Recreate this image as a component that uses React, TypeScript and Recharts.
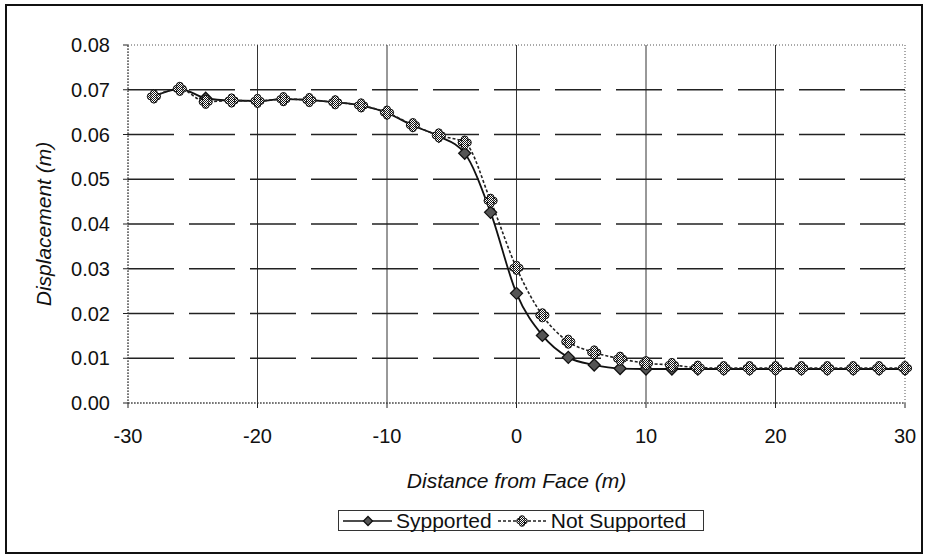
import React from "react";
import {
  LineChart,
  Line,
  XAxis,
  YAxis,
  ReferenceLine,
  ReferenceArea,
} from "recharts";

const distances = [
  -28, -26, -24, -22, -20, -18, -16, -14, -12, -10, -8, -6, -4, -2, 0, 2, 4, 6,
  8, 10, 12, 14, 16, 18, 20, 22, 24, 26, 28, 30,
];
const supported = [
  0.0685, 0.0702, 0.0681, 0.0676, 0.0675, 0.0679, 0.0677, 0.0672, 0.0665,
  0.0648, 0.062, 0.0596, 0.0558, 0.0426, 0.0245, 0.0151, 0.0102, 0.0085,
  0.0077, 0.0076, 0.0076, 0.0076, 0.0076, 0.0076, 0.0076, 0.0076, 0.0076,
  0.0076, 0.0076, 0.0076,
];
const notSupported = [
  0.0685, 0.0702, 0.0673, 0.0676, 0.0675, 0.0679, 0.0677, 0.0672, 0.0665,
  0.0649, 0.0621, 0.0598, 0.0582, 0.0452, 0.0302, 0.0196, 0.0137, 0.0113,
  0.0099, 0.0089, 0.0085, 0.0079, 0.0078, 0.0078, 0.0078, 0.0078, 0.0078,
  0.0078, 0.0078, 0.0078,
];
const xTicks = [-30, -20, -10, 0, 10, 20, 30];
const yTicks = [0, 0.01, 0.02, 0.03, 0.04, 0.05, 0.06, 0.07, 0.08];
const xGrid = [-20, -10, 0, 10, 20];
const yGrid = [0.01, 0.02, 0.03, 0.04, 0.05, 0.06, 0.07];

const data = distances.map((d, i) => ({
  x: d,
  supported: supported[i],
  notSupported: notSupported[i],
}));

const FONT = "'Liberation Sans', Arial, sans-serif";

// diamond marker for the supported series
function Diamond({ cx, cy, size = 6 }: any) {
  if (cx == null || cy == null) return null;
  const r = size;
  return (
    <path
      d={`M${cx},${cy - r} L${cx + r},${cy} L${cx},${cy + r} L${cx - r},${cy} Z`}
      fill="#555"
      stroke="#111"
      strokeWidth={1.3}
    />
  );
}

// four-lobed hatched marker for the unsupported series
function Clover({ cx, cy, size = 1 }: any) {
  if (cx == null || cy == null) return null;
  const o = 3.1 * size;
  const r = 3.5 * size;
  return (
    <g stroke="#111" strokeWidth={1} fill="url(#checker)">
      <circle cx={cx - o} cy={cy} r={r} />
      <circle cx={cx + o} cy={cy} r={r} />
      <circle cx={cx} cy={cy - o} r={r} />
      <circle cx={cx} cy={cy + o} r={r} />
      <circle cx={cx} cy={cy} r={2.6 * size} stroke="none" />
    </g>
  );
}

function YTitle({ viewBox }: any) {
  const x = viewBox.x + 35;
  const y = viewBox.y + viewBox.height / 2;
  return (
    <text
      x={x}
      y={y}
      transform={`rotate(-90 ${x} ${y})`}
      textAnchor="middle"
      dominantBaseline="central"
      fontFamily={FONT}
      fontStyle="italic"
      fontSize={21}
      fill="#111"
    >
      Displacement (m)
    </text>
  );
}

function XTitle({ viewBox }: any) {
  return (
    <text
      x={viewBox.x + viewBox.width / 2}
      y={viewBox.y + 85}
      textAnchor="middle"
      fontFamily={FONT}
      fontStyle="italic"
      fontSize={21}
      fill="#111"
    >
      Distance from Face (m)
    </text>
  );
}

export default function App() {
  return (
    <div
      style={{
        position: "absolute",
        left: 0,
        top: 0,
        width: 927,
        height: 559,
        background: "#fff",
        fontFamily: FONT,
      }}
    >
      <div
        style={{
          position: "absolute",
          left: 5,
          top: 4,
          width: 914,
          height: 546,
          border: "2px solid #111",
        }}
      />
      <LineChart
        width={927}
        height={559}
        data={data}
        margin={{ top: 45, right: 22, bottom: 66, left: 8 }}
      >
        <defs>
          <pattern id="checker" width="2" height="2" patternUnits="userSpaceOnUse">
            <rect width="2" height="2" fill="#fff" />
            <rect width="1" height="1" fill="#111" />
            <rect x="1" y="1" width="1" height="1" fill="#111" />
          </pattern>
        </defs>
        <ReferenceArea
          x1={-30}
          x2={30}
          y1={0}
          y2={0.08}
          fill="none"
          stroke="#555"
          strokeDasharray="1 2"
          ifOverflow="visible"
        />
        {xGrid.map((v) => (
          <ReferenceLine key={`vx${v}`} x={v} stroke="#333" strokeWidth={1} />
        ))}
        {yGrid.map((v) => (
          <ReferenceLine
            key={`hy${v}`}
            y={v}
            stroke="#222"
            strokeWidth={1.3}
            strokeDasharray="46 15"
          />
        ))}
        <XAxis
          dataKey="x"
          type="number"
          domain={[-30, 30]}
          ticks={xTicks}
          height={90}
          tickSize={5}
          tickMargin={21}
          axisLine={{ stroke: "#444", strokeDasharray: "2 1" }}
          tickLine={{ stroke: "#222" }}
          tick={{ fill: "#111", fontSize: 20, fontFamily: FONT }}
          label={<XTitle />}
        />
        <YAxis
          type="number"
          domain={[0, 0.08]}
          ticks={yTicks}
          width={120}
          tickSize={5}
          tickMargin={13}
          tickFormatter={(v: number) => v.toFixed(2)}
          axisLine={{ stroke: "#444", strokeDasharray: "2 1" }}
          tickLine={{ stroke: "#222" }}
          tick={{ fill: "#111", fontSize: 20, fontFamily: FONT }}
          label={<YTitle />}
        />
        <Line
          type="monotone"
          dataKey="supported"
          stroke="#111"
          strokeWidth={1.8}
          dot={<Diamond />}
          isAnimationActive={false}
        />
        <Line
          type="monotone"
          dataKey="notSupported"
          stroke="#222"
          strokeWidth={1.6}
          strokeDasharray="3 2"
          dot={<Clover />}
          isAnimationActive={false}
        />
      </LineChart>
      <div
        style={{
          position: "absolute",
          left: 338,
          top: 510,
          width: 366,
          height: 21,
          border: "1px solid #333",
          display: "flex",
          alignItems: "center",
          justifyContent: "flex-start",
          paddingLeft: 3,
          boxSizing: "border-box",
          fontSize: 21,
          color: "#111",
          whiteSpace: "nowrap",
        }}
      >
        <svg width={51} height={14}>
          <line x1={1} y1={7} x2={50} y2={7} stroke="#111" strokeWidth={1.6} />
          <Diamond cx={26} cy={7} size={4.5} />
        </svg>
        <span style={{ marginLeft: 3 }}>Sypported</span>
        <svg width={50} height={14} style={{ marginLeft: 5 }}>
          <line
            x1={1}
            y1={7}
            x2={49}
            y2={7}
            stroke="#222"
            strokeWidth={1.4}
            strokeDasharray="3 2"
          />
          <Clover cx={25} cy={7} size={0.8} />
        </svg>
        <span style={{ marginLeft: 4 }}>Not Supported</span>
      </div>
    </div>
  );
}
